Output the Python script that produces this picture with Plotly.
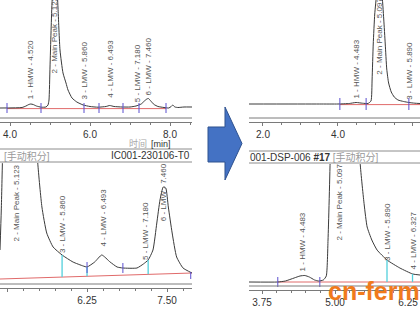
import plotly.graph_objects as go

W, H = 420, 315

# ---------------- data ----------------
# top-left chromatogram (IC001-230106-T01), signal in arbitrary units above baseline
tl_time = [3.75, 4.30, 4.40, 4.47, 4.52, 4.58, 4.66, 4.78, 4.90, 4.95, 4.975, 5.00, 5.025, 5.05,
           5.123, 5.17, 5.20, 5.25, 5.325, 5.40, 5.45, 5.55, 5.67, 5.83, 6.00, 6.20, 6.40, 6.493,
           6.60, 6.80, 7.00, 7.15, 7.28, 7.36, 7.42, 7.46, 7.52, 7.60, 7.70, 7.85, 7.97, 8.03,
           8.07, 8.12, 8.20, 8.35, 8.55]
tl_signal = [0, 0.5, 2, 3.5, 4, 3.5, 2, 0.8, 1, 3, 8, 41, 75, 105,
             145, 125, 100, 58, 35, 25, 18, 10, 6, 3, 1.5, 0.8, 1.5, 2.5,
             1.5, 1, 1, 2, 4, 7, 9, 9.5, 7, 3.5, 1.5, 0.5, 0, 1.5,
             3, 1, 0.5, 1, 1]
tl_marks = [3.925, 4.775, 5.85, 6.225, 6.825, 7.225, 7.90]
tl_base = [3.925, 7.90]
tl_labels = ["1 - HMW - 4.520", "2 - Main Peak - 5.123", "3 - LMW - 5.860",
             "4 - LMW - 6.493", "5 - LMW - 7.180", "6 - LMW - 7.460"]
tl_label_t = [4.52, 5.123, 5.86, 6.493, 7.18, 7.46]
tl_label_v = [7, 33, 7, 8, 4, 11]

# top-right chromatogram (DSP-006 #17)
tr_time = [1.627, 3.50, 4.00, 4.30, 4.483, 4.65, 4.80, 4.88, 4.91, 4.94, 4.98, 5.03, 5.097,
           5.17, 5.22, 5.26, 5.30, 5.35, 5.42, 5.50, 5.60, 5.75, 5.89, 6.05, 6.187]
tr_signal = [0, 0, 0, 0.5, 1.5, 0.8, 0.5, 3, 25, 60, 90, 110, 135,
             112, 85, 60, 35, 21, 12, 7, 4, 2.5, 1.5, 0.8, 0.5]
tr_marks = [4.05, 4.75, 5.89]
tr_base = [4.05, 6.187]
tr_labels = ["1 - HMW - 4.483", "2 - Main Peak - 5.097", "3 - LMW - 5.890"]
tr_label_t = [4.483, 5.097, 5.89]
tr_label_v = [3, 27, 2]

# bottom-left zoom of IC001-230106-T01
bl_time = [4.89, 4.91, 4.93, 4.96, 5.00, 5.05, 5.123, 5.20, 5.30, 5.40, 5.48, 5.545, 5.62,
           5.72, 5.86, 6.03, 6.19, 6.25, 6.37, 6.48, 6.61, 6.72, 6.81, 7.03, 7.13, 7.205,
           7.28, 7.34, 7.39, 7.44, 7.48, 7.52, 7.58, 7.65, 7.75, 7.89]
bl_signal = [35, 75, 130, 250, 410, 800, 1400, 900, 450, 230, 122, 78, 52,
             38, 30, 23, 19, 18, 23, 30, 23, 18, 17, 17, 21, 25,
             35, 62, 85, 98, 97, 78, 52, 28, 17, 12]
bl_base_t = [4.89, 7.89]
bl_base_v = [6, 12]
bl_cyan_t = [5.86, 6.25, 7.205]
bl_cyan_top = [30, 18, 25]
bl_marks = [6.25, 6.81, 7.87]
bl_labels = ["2 - Main Peak - 5.123", "3 - LMW - 5.860", "4 - LMW - 6.493",
             "5 - LMW - 7.180", "6 - LMW - 7.460"]
bl_label_t = [5.155, 5.86, 6.493, 7.156, 7.44]
bl_label_v = [42, 30, 36, 23, 62]

# bottom-right zoom of DSP-006 #17
br_time = [3.527, 4.02, 4.15, 4.30, 4.40, 4.483, 4.56, 4.65, 4.72, 4.80, 4.85, 4.88, 4.92,
           5.00, 5.097, 5.25, 5.35, 5.43, 5.50, 5.55, 5.63, 5.72, 5.89, 6.11, 6.33, 6.455]
br_signal = [8, 8, 9, 12, 14, 14.5, 13, 10, 9, 10, 14, 50, 140,
             700, 1500, 600, 250, 127, 85, 63, 50, 40, 30, 22, 16, 15]
br_base_t = [4.02, 6.455]
br_base_v = [8, 8]
br_cyan_t = [5.89, 6.327]
br_cyan_top = [30, 16]
br_marks = [4.02, 4.74]
br_labels = ["1 - HMW - 4.483", "2 - Main Peak - 5.097", "3 - LMW - 5.890", "4 - LMW - 6.327"]
br_label_t = [4.45, 5.068, 5.89, 6.327]
br_label_v = [17, 47, 27, 18]

# ---------------- helpers ----------------
def px(x):
    return x / W

def py(y):
    return 1 - y / H

CURVE = "#3a3a3a"
RED = "#e06a6a"
PURPLE = "#5b4fcf"
CYAN = "#52cfdc"
AXC = "#7a7a7a"
LBL = "#555555"
SANS = "Liberation Sans, Arial, sans-serif"
CJK = "Liberation Sans, Noto Sans CJK SC, sans-serif"

fig = go.Figure()

def vsegs(ts, lo, hi):
    xs, ys = [], []
    for i, t in enumerate(ts):
        l = lo[i] if isinstance(lo, list) else lo
        h = hi[i] if isinstance(hi, list) else hi
        xs += [t, t, None]
        ys += [l, h, None]
    return xs, ys

def add_curve(t, v, xa, ya):
    fig.add_trace(go.Scatter(x=t, y=v, mode="lines", xaxis=xa, yaxis=ya,
                             line=dict(color=CURVE, width=1, shape="spline", smoothing=0.5),
                             hoverinfo="skip", showlegend=False))

def add_line(t, v, xa, ya, color, width=1):
    fig.add_trace(go.Scatter(x=t, y=v, mode="lines", xaxis=xa, yaxis=ya,
                             line=dict(color=color, width=width),
                             hoverinfo="skip", showlegend=False, connectgaps=False))

# TL
add_line(tl_base, [-0.6, -0.6], "x", "y", RED)
add_curve(tl_time, tl_signal, "x", "y")
xs, ys = vsegs(tl_marks, -5, 5)
add_line(xs, ys, "x", "y", PURPLE)

# TR
add_line(tr_base, [-0.6, -0.6], "x2", "y2", RED)
add_curve(tr_time, tr_signal, "x2", "y2")
xs, ys = vsegs(tr_marks, -6, 6)
add_line(xs, ys, "x2", "y2", PURPLE)

# BL
add_line(bl_base_t, bl_base_v, "x3", "y3", RED)
add_curve(bl_time, bl_signal, "x3", "y3")
slope = (bl_base_v[1] - bl_base_v[0]) / (bl_base_t[1] - bl_base_t[0])
bl_cyan_lo = [bl_base_v[0] + slope * (t - bl_base_t[0]) for t in bl_cyan_t]
xs, ys = vsegs(bl_cyan_t, bl_cyan_lo, bl_cyan_top)
add_line(xs, ys, "x3", "y3", CYAN, 1.3)
xs, ys = vsegs(bl_marks, [12, 12, 6], [23, 22, 13])
add_line(xs, ys, "x3", "y3", PURPLE)

# BR
add_line(br_base_t, br_base_v, "x4", "y4", RED)
add_curve(br_time, br_signal, "x4", "y4")
xs, ys = vsegs(br_cyan_t, 8, br_cyan_top)
add_line(xs, ys, "x4", "y4", CYAN, 1.3)
xs, ys = vsegs(br_marks, 3, 13)
add_line(xs, ys, "x4", "y4", PURPLE)

annotations = []

def add_labels(labels, ts, vs, xr, yr):
    for txt, t, v in zip(labels, ts, vs):
        annotations.append(dict(text=txt, x=t, y=v, xref=xr, yref=yr, showarrow=False,
                                textangle=-90, xanchor="center", yanchor="bottom",
                                font=dict(family=SANS, size=8, color=LBL)))

add_labels(tl_labels, tl_label_t, tl_label_v, "x", "y")
add_labels(tr_labels, tr_label_t, tr_label_v, "x2", "y2")
add_labels(bl_labels, bl_label_t, bl_label_v, "x3", "y3")
add_labels(br_labels, br_label_t, br_label_v, "x4", "y4")

# header / caption texts
def ptext(text, x, y, xanchor, size=10, color="#333", family=SANS, **kw):
    annotations.append(dict(text=text, x=px(x), y=py(y), xref="paper", yref="paper",
                            showarrow=False, xanchor=xanchor, yanchor="middle",
                            font=dict(family=family, size=size, color=color), **kw))

ptext("时间", 127, 143.5, "left", size=9, color="#a8a8a8", family=CJK)
ptext("[min]", 149, 144, "left", size=9, color="#333")
ptext("[手动积分]", 2, 155.5, "left", color="#9a9a9a", family=CJK)
ptext("IC001-230106-T0", 192, 155.5, "right", color="#333")
ptext('001-DSP-006 <b>#17</b> <span style="color:#9a9a9a">[手动积分]</span>', 248, 157, "left",
      color="#333", family=CJK)
ptext("cn-fermentation", 326, 291, "left", size=25, color="#f07a1c",
      family="Liberation Sans, Arial, sans-serif")
annotations[-1]["font"]["weight"] = "bold"

shapes = []

def hline(x0, x1, y, color=AXC, width=1):
    shapes.append(dict(type="line", xref="paper", yref="paper", x0=px(x0), x1=px(x1),
                       y0=py(y), y1=py(y), line=dict(color=color, width=width)))

# upper rule of the double axis lines
hline(0, 192, 118)
hline(249, 420, 118)
hline(0, 192, 284)
hline(249, 420, 286)
# header bars
hline(0, 192, 149, "#8c8c8c")
hline(0, 192, 162, "#8c8c8c")
hline(249, 420, 151, "#8c8c8c")
hline(249, 420, 163, "#8c8c8c")

# blue arrow
pts = [(208, 127), (225, 127), (225, 107), (242, 143.5), (225, 180), (225, 162), (208, 162)]
path = "M " + " L ".join(f"{px(a):.5f},{py(b):.5f}" for a, b in pts) + " Z"
shapes.append(dict(type="path", xref="paper", yref="paper", path=path,
                   fillcolor="#4472c4", line=dict(color="#2f528f", width=1)))

def xax(domain, rng, dtick, minor, fmt, anchor):
    return dict(domain=domain, range=rng, dtick=dtick, tick0=0, tickformat=fmt,
                showline=True, linecolor=AXC, linewidth=1, ticks="outside", ticklen=3,
                tickcolor=AXC, tickfont=dict(family=SANS, size=10, color="#333"),
                showgrid=False, zeroline=False, anchor=anchor, fixedrange=True,
                minor=dict(ticks="outside", ticklen=2, dtick=minor, tickcolor=AXC, showgrid=False))

def yax(domain, rng, anchor):
    return dict(domain=domain, range=rng, visible=False, anchor=anchor, fixedrange=True)

fig.update_layout(
    width=W, height=H, margin=dict(l=0, r=0, t=0, b=0),
    paper_bgcolor="white", plot_bgcolor="white", showlegend=False,
    xaxis=xax([0, px(192)], [3.75, 8.55], 2, 0.5, ".1f", "y"),
    yaxis=yax([py(122), 1], [-14, 108], "x"),
    xaxis2=xax([px(249), 1], [1.627, 6.187], 2, 0.5, ".1f", "y2"),
    yaxis2=yax([py(122), 1], [-18, 104], "x2"),
    xaxis3=xax([0, px(192)], [4.89, 7.89], 1.25, 0.25, ".2f", "y3"),
    yaxis3=yax([py(288), py(163)], [-3, 122], "x3"),
    xaxis4=xax([px(249), 1], [3.527, 6.455], 1.25, 0.25, ".2f", "y4"),
    yaxis4=yax([py(290), py(164)], [0, 126], "x4"),
    annotations=annotations,
    shapes=shapes,
)

fig.write_html("out.html")
